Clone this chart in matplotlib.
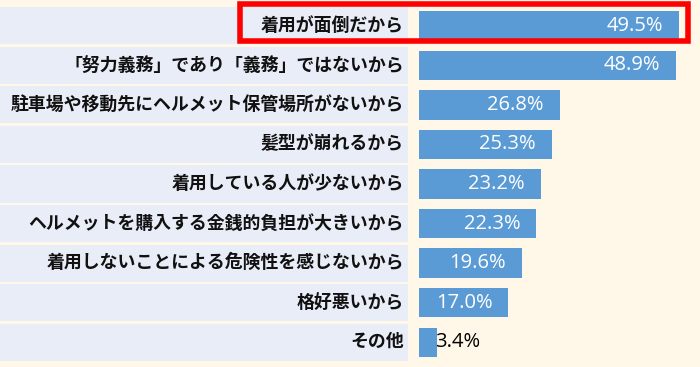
import matplotlib
matplotlib.use("Agg")
import matplotlib.pyplot as plt
from matplotlib.patches import Rectangle

plt.rcParams['font.family'] = ['Noto Sans CJK JP', 'DejaVu Sans']

labels = ["着用が面倒だから",
          "「努力義務」であり「義務」ではないから",
          "駐車場や移動先にヘルメット保管場所がないから",
          "髪型が崩れるから",
          "着用している人が少ないから",
          "ヘルメットを購入する金銭的負担が大きいから",
          "着用しないことによる危険性を感じないから",
          "格好悪いから",
          "その他"]
values = [49.5, 48.9, 26.8, 25.3, 23.2, 22.3, 19.6, 17.0, 3.4]

cream = "#FFF8E8"
band = "#E9EDF7"
blue = "#5B9BD5"

fig = plt.figure(figsize=(7, 3.67), dpi=100, facecolor=cream)
bot = 5 / 367
h = 356 / 367

# label area
axl = fig.add_axes([0, bot, 408 / 700, h])
axl.set_facecolor("white")
y = list(range(len(labels)))
axl.barh(y, [1] * len(y), height=0.94, color=band, left=0)
for i, lab in enumerate(labels):
    axl.text(0.99, i, lab, ha='right', va='center', fontsize=12.9,
             fontweight='bold', color="#111111")
axl.set_xlim(0, 1)
axl.set_ylim(len(y) - 0.5, -0.5)
axl.axis('off')

# bar area
ax = fig.add_axes([419 / 700, bot, 281 / 700, h])
ax.set_facecolor(cream)
ax.barh(y, values, height=0.74, color=blue)
for i, v in enumerate(values):
    if v > 10:
        ax.text(v - 3.0, i, f"{v:.1f}%", ha='right', va='center',
                fontsize=14.5, color='white', family=['Open Sans', 'DejaVu Sans'])
    else:
        ax.text(v - 0.4, i, f"{v:.1f}%", ha='left', va='center',
                fontsize=14.5, color='black', family=['Open Sans', 'DejaVu Sans'])
ax.set_xlim(0, 281 / 5.25)
ax.set_ylim(len(y) - 0.5, -0.5)
ax.axis('off')

# red highlight box around the top item
fig.patches.append(Rectangle((240 / 700, 1 - 41 / 367), 448 / 700, 37 / 367,
                             transform=fig.transFigure, fill=False,
                             edgecolor="#FF0000", linewidth=4, zorder=10))

fig.savefig("out.png", dpi=100, facecolor=cream)
